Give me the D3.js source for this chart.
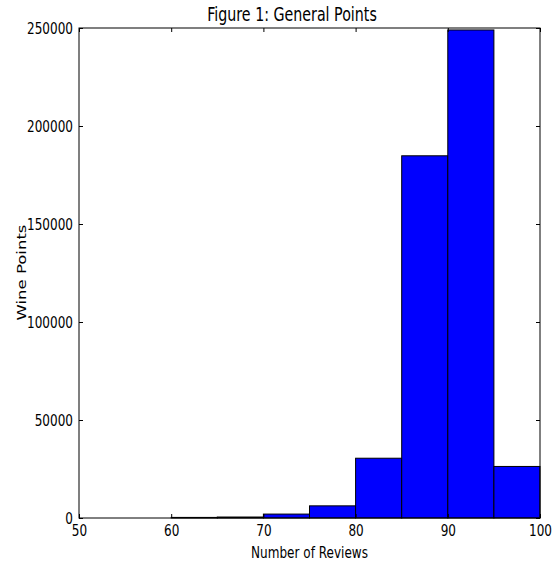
<!DOCTYPE html>
<html>
<head>
<meta charset="utf-8">
<script src="https://cdn.jsdelivr.net/npm/d3@7"></script>
<style>
  body { margin: 0; background: #fff; }
  svg { display: block; }
  .tick text { font-family: "DejaVu Sans", sans-serif; font-size: 16.5px; fill: #000; }
</style>
</head>
<body>
<div id="chart"></div>
<script>
// Histogram bins (lower edge) and counts
const binStarts = [60, 65, 70, 75, 80, 85, 90, 95];
const binWidth = 5;
const counts = [300, 500, 2000, 6200, 30500, 184800, 249000, 26300];
const xTicks = [50, 60, 70, 80, 90, 100];
const yTicks = [0, 50000, 100000, 150000, 200000, 250000];

const width = 555;
const height = 563;
const margin = { top: 28, right: 15, bottom: 45, left: 79 };
const plotW = width - margin.left - margin.right;
const plotH = height - margin.top - margin.bottom;
// the picture is squeezed sideways, so text is narrowed
const squeeze = 0.73;

const svg = d3.select("#chart")
  .append("svg")
  .attr("width", width)
  .attr("height", height);

const g = svg.append("g")
  .attr("transform", `translate(${margin.left},${margin.top})`);

const x = d3.scaleLinear().domain([50, 100]).range([0, plotW]);
const y = d3.scaleLinear().domain([0, 250000]).range([plotH, 0]);

// Bars
g.selectAll(".bar")
  .data(binStarts)
  .join("rect")
  .attr("class", "bar")
  .attr("x", d => x(d))
  .attr("width", d => x(d + binWidth) - x(d))
  .attr("y", (d, i) => y(counts[i]))
  .attr("height", (d, i) => plotH - y(counts[i]))
  .attr("fill", "#0000ff")
  .attr("stroke", "#000")
  .attr("stroke-width", 1);

// Frame
g.append("rect")
  .attr("width", plotW)
  .attr("height", plotH)
  .attr("fill", "none")
  .attr("stroke", "#000")
  .attr("stroke-width", 1);

// Axes, matplotlib classic: inward ticks on all four sides
const styleAxis = sel => {
  sel.select(".domain").remove();
  sel.selectAll(".tick line").attr("stroke", "#000");
  sel.selectAll(".tick text").each(function() {
    const t = d3.select(this);
    const tx = +t.attr("x") || 0;
    t.attr("x", 0).attr("transform", `translate(${tx},0) scale(${squeeze},1)`);
  });
};

g.append("g")
  .attr("transform", `translate(0,${plotH})`)
  .call(d3.axisBottom(x).tickValues(xTicks).tickSize(-4).tickPadding(6).tickFormat(d3.format("d")))
  .call(styleAxis);

g.append("g")
  .call(d3.axisTop(x).tickValues(xTicks).tickSize(-4).tickFormat(""))
  .call(styleAxis);

g.append("g")
  .call(d3.axisLeft(y).tickValues(yTicks).tickSize(-4).tickPadding(6).tickFormat(d3.format("d")))
  .call(styleAxis);

g.append("g")
  .attr("transform", `translate(${plotW},0)`)
  .call(d3.axisRight(y).tickValues(yTicks).tickSize(-4).tickFormat(""))
  .call(styleAxis);

// Title and labels
svg.append("text")
  .attr("transform", `translate(292,21) scale(${squeeze},1)`)
  .attr("text-anchor", "middle")
  .attr("font-family", "DejaVu Sans, sans-serif")
  .attr("font-size", 19.5)
  .text("Figure 1: General Points");

svg.append("text")
  .attr("transform", `translate(${margin.left + plotW / 2},558) scale(${squeeze},1)`)
  .attr("text-anchor", "middle")
  .attr("font-family", "DejaVu Sans, sans-serif")
  .attr("font-size", 16.5)
  .text("Number of Reviews");

svg.append("text")
  .attr("transform", `translate(26,${margin.top + plotH / 2 - 0.5}) rotate(-90) scale(1,${squeeze})`)
  .attr("text-anchor", "middle")
  .attr("font-family", "DejaVu Sans, sans-serif")
  .attr("font-size", 16.5)
  .text("Wine Points");
</script>
</body>
</html>
